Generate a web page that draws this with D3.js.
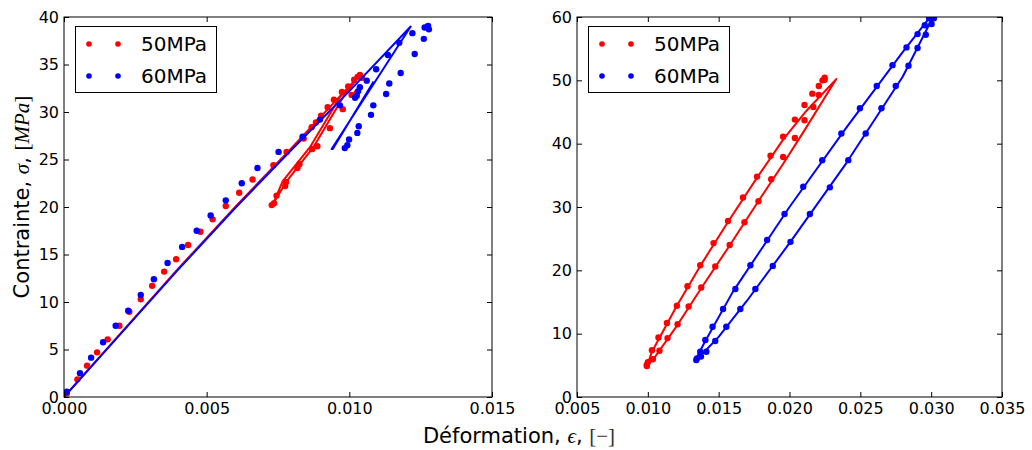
<!DOCTYPE html>
<html><head><meta charset="utf-8">
<script src="https://cdn.jsdelivr.net/npm/d3@7"></script>
<style>body{margin:0;background:#fff}svg{display:block}text{font-family:"DejaVu Sans",sans-serif}</style>
</head><body><svg id="c" width="1032" height="450"></svg>
<script>
// ---------- data ----------
const seriesNames = ["50MPa", "60MPa"];
const seriesColors = ["#ff0000", "#0000ff"];

const leftXTicks = [0.000, 0.005, 0.010, 0.015];
const leftYTicks = [0, 5, 10, 15, 20, 25, 30, 35, 40];
const rightXTicks = [0.005, 0.010, 0.015, 0.020, 0.025, 0.030, 0.035];
const rightYTicks = [0, 10, 20, 30, 40, 50, 60];

// left panel: measured points [strain, stress]
const left50Points = [
  [0.0001,0.39],[0.00047,1.86],[0.00081,3.3],[0.00116,4.7],[0.00153,6.07],[0.00194,7.5],[0.00229,8.98],
  [0.00269,10.28],[0.00309,11.7],[0.00351,13.2],[0.00393,14.5],[0.00435,16.0],[0.00478,17.4],[0.00521,18.7],
  [0.00567,20.1],[0.00614,21.5],[0.00661,22.9],[0.00734,24.4],[0.00780,25.8],[0.00840,27.2],[0.00868,28.4],
  [0.00883,28.9],[0.00901,29.6],[0.00924,30.5],[0.00946,31.3],[0.00974,32.1],[0.00996,32.7],[0.01017,33.4],
  [0.01029,33.7],[0.01037,33.9],[0.01044,33.6],
  [0.01026,32.0],[0.01008,31.8],[0.00977,30.3],[0.00932,28.3],[0.00888,26.4],[0.00870,26.1],[0.00825,24.5],
  [0.00818,24.1],[0.00778,22.6],[0.00775,22.2],[0.00745,21.2],[0.00736,20.4],[0.00728,20.2]
];
const left60Points = [
  [0.0001,0.56],[0.00056,2.5],[0.00095,4.14],[0.00137,5.76],[0.00181,7.5],[0.00225,9.08],[0.00269,10.74],
  [0.00315,12.4],[0.00363,14.1],[0.00414,15.8],[0.00465,17.5],[0.00514,19.1],[0.00567,20.7],[0.00623,22.5],
  [0.00678,24.1],[0.00752,25.8],[0.00836,27.4],[0.00897,29.2],[0.00967,30.7],[0.01020,31.5],[0.01026,31.7],
  [0.01031,32.2],[0.01037,32.6],[0.01061,33.3],[0.01094,34.5],[0.01135,36.0],[0.01175,37.3],[0.01221,38.3],
  [0.01264,38.9],[0.01276,39.05],[0.01279,38.7],
  [0.01261,37.7],[0.01229,36.1],[0.01180,34.1],[0.01140,33.0],[0.01129,31.9],[0.01084,30.7],[0.01076,29.7],
  [0.01033,28.5],[0.01028,27.8],[0.00999,27.1],[0.00993,26.5],[0.00984,26.2]
];
// left panel: model curves
const left50Model = [
  [0,0],[0.002,6.75],[0.004,13.5],[0.006,20.0],[0.008,26.3],[0.01037,33.9],
  [0.00979,31.6],[0.00874,26.3],[0.00780,22.7],[0.00734,20.4],
  [0.00766,22.7],[0.00862,26.3],[0.00968,31.6],[0.01037,33.9]
];
const left60Model = [
  [0,0],[0.002,6.7],[0.004,13.4],[0.006,19.9],[0.008,26.1],[0.010,32.2],[0.01215,39.0],
  [0.00938,26.1],[0.00942,26.1],[0.01085,33.2]
];

// right panel: measured points
const right50Points = [
  [0.00993,5.05],[0.01000,5.5],[0.01029,7.4],[0.01075,9.4],[0.01135,11.7],[0.01205,14.4],[0.01280,17.5],
  [0.01370,20.8],[0.01464,24.3],[0.01566,27.8],[0.01672,31.5],[0.01771,34.8],[0.01866,38.1],[0.01955,41.1],
  [0.02038,43.8],[0.02106,46.1],[0.02161,47.9],[0.02207,49.1],[0.02233,50.0],[0.02248,50.4],
  [0.02248,50.1],[0.02207,47.7],[0.02168,45.8],[0.02106,43.7],[0.02038,40.9],[0.01955,37.9],[0.01871,34.4],
  [0.01781,30.9],[0.01682,27.6],[0.01578,24.0],[0.01476,20.6],[0.01377,17.3],[0.01288,14.3],[0.01210,11.5],
  [0.01139,9.3],[0.01082,7.3],[0.01036,5.95],[0.00993,4.9]
];
const right60Points = [
  [0.01347,6.1],[0.01370,7.15],[0.01406,9.0],[0.01457,11.1],[0.01531,13.9],[0.01618,17.05],[0.01724,20.8],
  [0.01842,24.8],[0.01965,28.9],[0.02097,33.2],[0.02231,37.4],[0.02366,41.6],[0.02497,45.6],[0.02616,49.1],
  [0.02727,52.4],[0.02826,55.2],[0.02904,57.3],[0.02955,58.7],[0.02986,59.8],[0.03005,60.0],
  [0.03019,59.8],[0.03003,58.9],[0.02962,57.2],[0.02904,55.1],[0.02840,52.3],[0.02750,49.1],[0.02649,45.6],
  [0.02538,41.6],[0.02415,37.4],[0.02285,33.1],[0.02144,28.9],[0.02007,24.5],[0.01882,20.7],[0.01759,17.05],
  [0.01653,13.9],[0.01554,11.1],[0.01476,8.85],[0.01413,7.15],[0.01375,6.4],[0.01342,5.85]
];
// right panel: model curves
const right50Model = [
  [0.00995,5.0],[0.0103,7.2],[0.0120,14.2],[0.0137,20.7],[0.0157,27.8],[0.0177,34.6],[0.0196,40.8],
  [0.0212,45.2],[0.0233,50.2],
  [0.0210,41.9],[0.0196,37.0],[0.0178,30.9],[0.0158,24.0],[0.0138,17.3],[0.0121,11.4],[0.0104,6.0],[0.00995,5.0]
];
const right60Model = [
  [0.01340,6.0],[0.0140,8.6],[0.0160,16.6],[0.0200,30.0],[0.0240,42.5],[0.0280,54.5],[0.0301,60.5],
  [0.0302,60.3],[0.0280,50.6],[0.0240,36.9],[0.0200,24.3],[0.0170,15.2],[0.0150,9.5],[0.01350,6.0]
];

// ---------- drawing ----------
const svg = d3.select("#c");
const plotTop = 17, plotBottom = 397;

function panel(id, x0, x1, xDom, yDom, xTicks, yTicks, pts, models) {
  const x = d3.scaleLinear().domain(xDom).range([x0, x1]);
  const y = d3.scaleLinear().domain(yDom).range([plotBottom, plotTop]);
  const g = svg.append("g");
  g.append("clipPath").attr("id", id).append("rect")
    .attr("x", x0).attr("y", plotTop).attr("width", x1 - x0).attr("height", plotBottom - plotTop);
  const plot = g.append("g").attr("clip-path", `url(#${id})`);
  const line = d3.line().x(d => x(d[0])).y(d => y(d[1]));
  [0, 1].forEach(i => {
    plot.append("g").selectAll("circle").data(pts[i]).join("circle")
      .attr("cx", d => x(d[0])).attr("cy", d => y(d[1])).attr("r", 3.2)
      .attr("fill", seriesColors[i]);
    plot.append("path").datum(models[i]).attr("d", line)
      .attr("fill", "none").attr("stroke", seriesColors[i]).attr("stroke-width", 2)
      .attr("stroke-linejoin", "round");
  });
  const fx = d3.format(".3f");
  const styleAxis = a => {
    a.select(".domain").remove();
    a.selectAll("line").attr("stroke", "#000");
    a.selectAll("text").attr("font-size", 16).attr("fill", "#000").attr("font-family", "DejaVu Sans");
  };
  g.append("g").attr("transform", `translate(0,${plotBottom})`)
    .call(d3.axisBottom(x).tickValues(xTicks).tickFormat(fx).tickSize(-5).tickPadding(6)).call(styleAxis);
  g.append("g").attr("transform", `translate(0,${plotTop})`)
    .call(d3.axisTop(x).tickValues(xTicks).tickFormat("").tickSize(-5)).call(styleAxis);
  g.append("g").attr("transform", `translate(${x0},0)`)
    .call(d3.axisLeft(y).tickValues(yTicks).tickFormat(d3.format("d")).tickSize(-5).tickPadding(5)).call(styleAxis);
  g.append("g").attr("transform", `translate(${x1},0)`)
    .call(d3.axisRight(y).tickValues(yTicks).tickFormat("").tickSize(-5)).call(styleAxis);
  g.append("rect").attr("x", x0).attr("y", plotTop).attr("width", x1 - x0).attr("height", plotBottom - plotTop)
    .attr("fill", "none").attr("stroke", "#000").attr("stroke-width", 1);
  // legend
  const lx = x0 + 11, ly = 26;
  const lg = g.append("g");
  lg.append("rect").attr("x", lx + 0.5).attr("y", ly + 0.5).attr("width", 141).attr("height", 66)
    .attr("fill", "#fff").attr("stroke", "#000");
  seriesNames.forEach((n, i) => {
    const cy = ly + 18 + i * 32;
    [lx + 14, lx + 43].forEach(cx => lg.append("circle").attr("cx", cx).attr("cy", cy).attr("r", 2.8).attr("fill", seriesColors[i]));
    lg.append("text").attr("x", lx + 66).attr("y", cy + 7).attr("font-size", 20).attr("fill", "#000").text(n);
  });
}

panel("cl", 64, 492, [0, 0.015], [0, 40], leftXTicks, leftYTicks,
  [left50Points, left60Points], [left50Model, left60Model]);
panel("cr", 577, 1002, [0.005, 0.035], [0, 60], rightXTicks, rightYTicks,
  [right50Points, right60Points], [right50Model, right60Model]);

// axis labels
const xl = svg.append("text").attr("x", 519).attr("y", 443).attr("text-anchor", "middle").attr("font-size", 21).attr("fill", "#000");
xl.append("tspan").text("Déformation, ");
xl.append("tspan").attr("font-family", "Liberation Serif").attr("font-style", "italic").text("ϵ");
xl.append("tspan").text(", ");
xl.append("tspan").attr("font-family", "Liberation Serif").attr("fill", "#333").text("[−]");

const yl = svg.append("text").attr("transform", "translate(29,197) rotate(-90)").attr("text-anchor", "middle").attr("font-size", 21).attr("fill", "#000");
yl.append("tspan").text("Contrainte, ");
yl.append("tspan").attr("font-family", "Liberation Serif").attr("font-style", "italic").text("σ");
yl.append("tspan").text(", ");
yl.append("tspan").attr("font-family", "Liberation Serif").text("[");
yl.append("tspan").attr("font-family", "Liberation Serif").attr("font-style", "italic").text("MPa");
yl.append("tspan").attr("font-family", "Liberation Serif").text("]");
</script></body></html>
